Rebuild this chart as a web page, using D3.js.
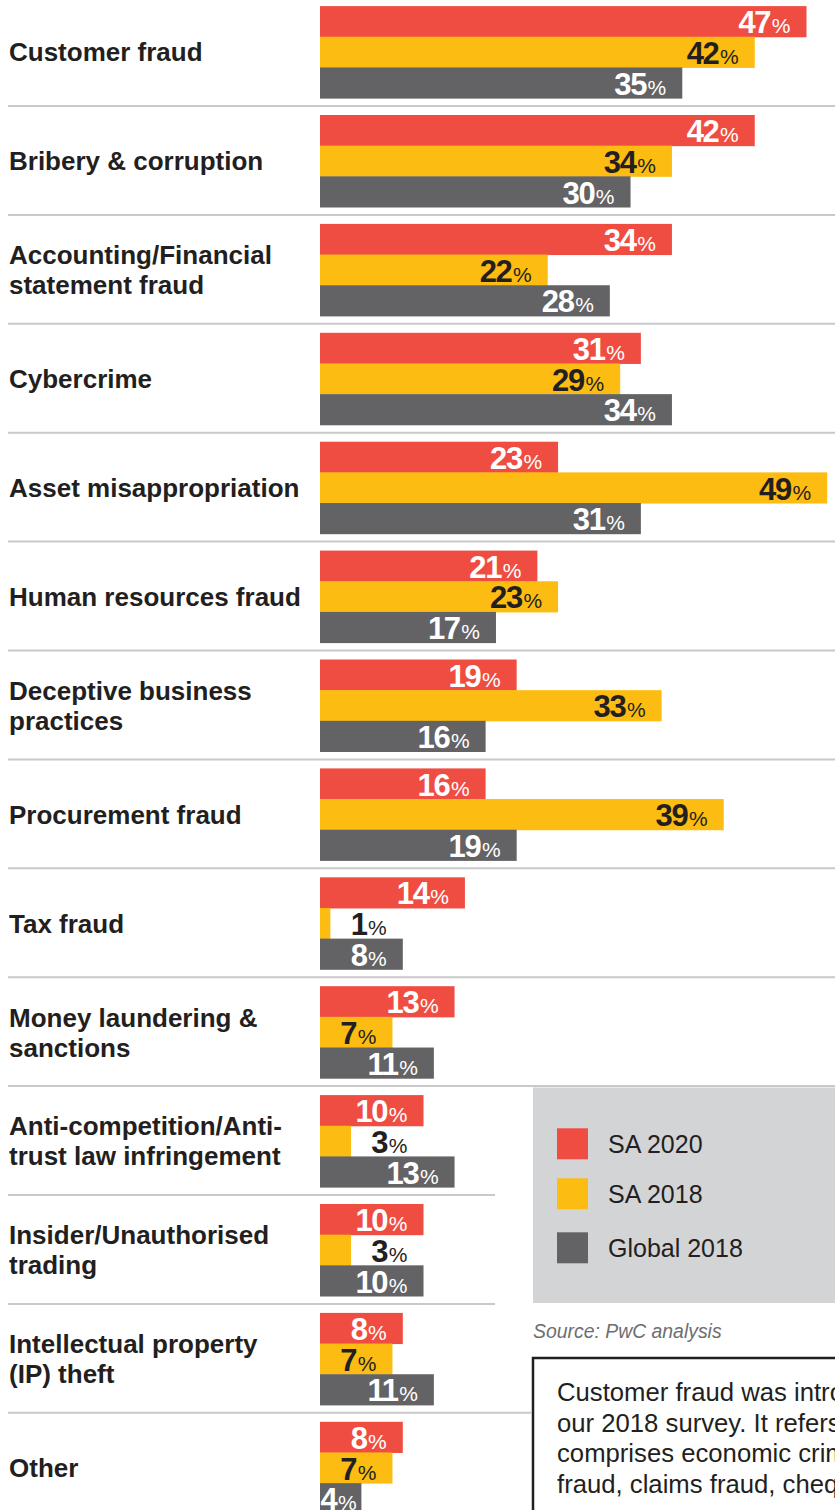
<!DOCTYPE html>
<html>
<head>
<meta charset="utf-8">
<script src="https://cdn.jsdelivr.net/npm/d3@7/dist/d3.min.js"></script>
<style>
  html, body { margin: 0; padding: 0; background: #fff; }
  svg { display: block; font-family: "Liberation Sans", Arial, Helvetica, sans-serif; }
</style>
</head>
<body>
<svg id="chart" width="835" height="1510"></svg>
<script>
const categories = [
  "Customer fraud",
  "Bribery & corruption",
  "Accounting/Financial\nstatement fraud",
  "Cybercrime",
  "Asset misappropriation",
  "Human resources fraud",
  "Deceptive business\npractices",
  "Procurement fraud",
  "Tax fraud",
  "Money laundering &\nsanctions",
  "Anti-competition/Anti-\ntrust law infringement",
  "Insider/Unauthorised\ntrading",
  "Intellectual property\n(IP) theft",
  "Other"
];
const seriesNames = ["SA 2020", "SA 2018", "Global 2018"];
const sa2020 = [47, 42, 34, 31, 23, 21, 19, 16, 14, 13, 10, 10, 8, 8];
const sa2018 = [42, 34, 22, 29, 49, 23, 33, 39, 1, 7, 3, 3, 7, 7];
const global2018 = [35, 30, 28, 34, 31, 17, 16, 19, 8, 11, 13, 10, 11, 4];
const seriesColors = ["#f04d42", "#fdbc11", "#636366"];
const labelColors = ["#ffffff", "#231f20", "#ffffff"];
const sourceText = "Source: PwC analysis";
const noteLines = [
  "Customer fraud was introduced in",
  "our 2018 survey. It refers to fraud",
  "comprises economic crime such as",
  "fraud, claims fraud, cheque fraud"
];

const seriesValues = [sa2020, sa2018, global2018];
const svg = d3.select("#chart");
const W = 835;
const rowH = 108.9;
const top0 = -2.9;

const y = d3.scaleBand()
  .domain(d3.range(categories.length))
  .range([top0, top0 + rowH * categories.length]);
const ySub = d3.scaleBand()
  .domain(d3.range(seriesNames.length))
  .range([9, 101]);
const x = d3.scaleLinear().domain([0, 47]).range([320, 806.5]);

// separators
categories.forEach((c, i) => {
  if (i === categories.length - 1) return;
  const yy = y(i) + rowH;
  let x2 = W;
  if (i === 10 || i === 11) x2 = 495;
  if (i === 12) x2 = 531;
  svg.append("line")
    .attr("x1", 8).attr("x2", x2)
    .attr("y1", yy).attr("y2", yy)
    .attr("stroke", "#c9c9c9").attr("stroke-width", 2);
});

// category labels
categories.forEach((c, i) => {
  const lines = c.split("\n");
  const cy = y(i) + (9 + 101) / 2;
  const t = svg.append("text")
    .attr("x", 9)
    .attr("font-size", 26)
    .attr("font-weight", "bold")
    .attr("fill", "#231f20");
  lines.forEach((ln, k) => {
    const off = (k - (lines.length - 1) / 2) * 30;
    t.append("tspan").attr("x", 9).attr("y", cy + off + 9.3).text(ln);
  });
});

// bars
const rows = svg.selectAll("g.row")
  .data(categories.map((c, i) => i))
  .join("g").attr("class", "row")
  .attr("transform", i => `translate(0,${y(i)})`);

rows.each(function(i) {
  const g = d3.select(this);
  const vals = seriesValues.map(s => s[i]);
  vals.forEach((v, s) => {
    g.append("rect")
      .attr("x", x(0))
      .attr("y", ySub(s))
      .attr("width", x(v) - x(0))
      .attr("height", ySub.bandwidth() + 0.5)
      .attr("fill", seriesColors[s]);
  });
  vals.forEach((v, s) => {
    let color = labelColors[s];
    let endX = x(v) - 16;
    if (v < 4) {
      const others = vals.filter((o, k) => k !== s);
      endX = x(d3.min(others)) - 16;
      color = "#231f20";
    }
    const t = g.append("text")
      .attr("y", ySub(s) + ySub.bandwidth() - 3.5)
      .attr("fill", color)
      .attr("text-anchor", "end");
    t.append("tspan").attr("font-size", 31).attr("font-weight", "bold")
      .attr("letter-spacing", -1.3).text(v);
    t.append("tspan").attr("font-size", 21).attr("dx", 1.5).text("%");
    t.attr("x", endX);
    const w = t.node().getComputedTextLength();
    if (endX - w < x(0) + 2) t.attr("x", x(0) + 2 + w);
  });
});

// legend
const lg = svg.append("g");
lg.append("rect").attr("x", 533).attr("y", 1087.5).attr("width", W - 533).attr("height", 215.5)
  .attr("fill", "#d3d4d6");
const legY = [1128.3, 1178.3, 1232.3];
seriesNames.forEach((n, s) => {
  lg.append("rect").attr("x", 557).attr("y", legY[s]).attr("width", 31).attr("height", 31)
    .attr("fill", seriesColors[s]);
  lg.append("text").attr("x", 608).attr("y", legY[s] + 24.5)
    .attr("font-size", 25).attr("fill", "#231f20").text(n);
});

// source
svg.append("text").attr("x", 533).attr("y", 1338)
  .attr("font-size", 19.4).attr("font-style", "italic").attr("fill", "#6d6e71")
  .text(sourceText);

// note box
svg.append("rect").attr("x", 533).attr("y", 1358).attr("width", 400).attr("height", 200)
  .attr("fill", "#fff").attr("stroke", "#231f20").attr("stroke-width", 2.5);
noteLines.forEach((ln, k) => {
  svg.append("text").attr("x", 557).attr("y", 1401 + k * 30.5)
    .attr("font-size", 25.7).attr("fill", "#231f20").text(ln);
});
</script>
</body>
</html>
